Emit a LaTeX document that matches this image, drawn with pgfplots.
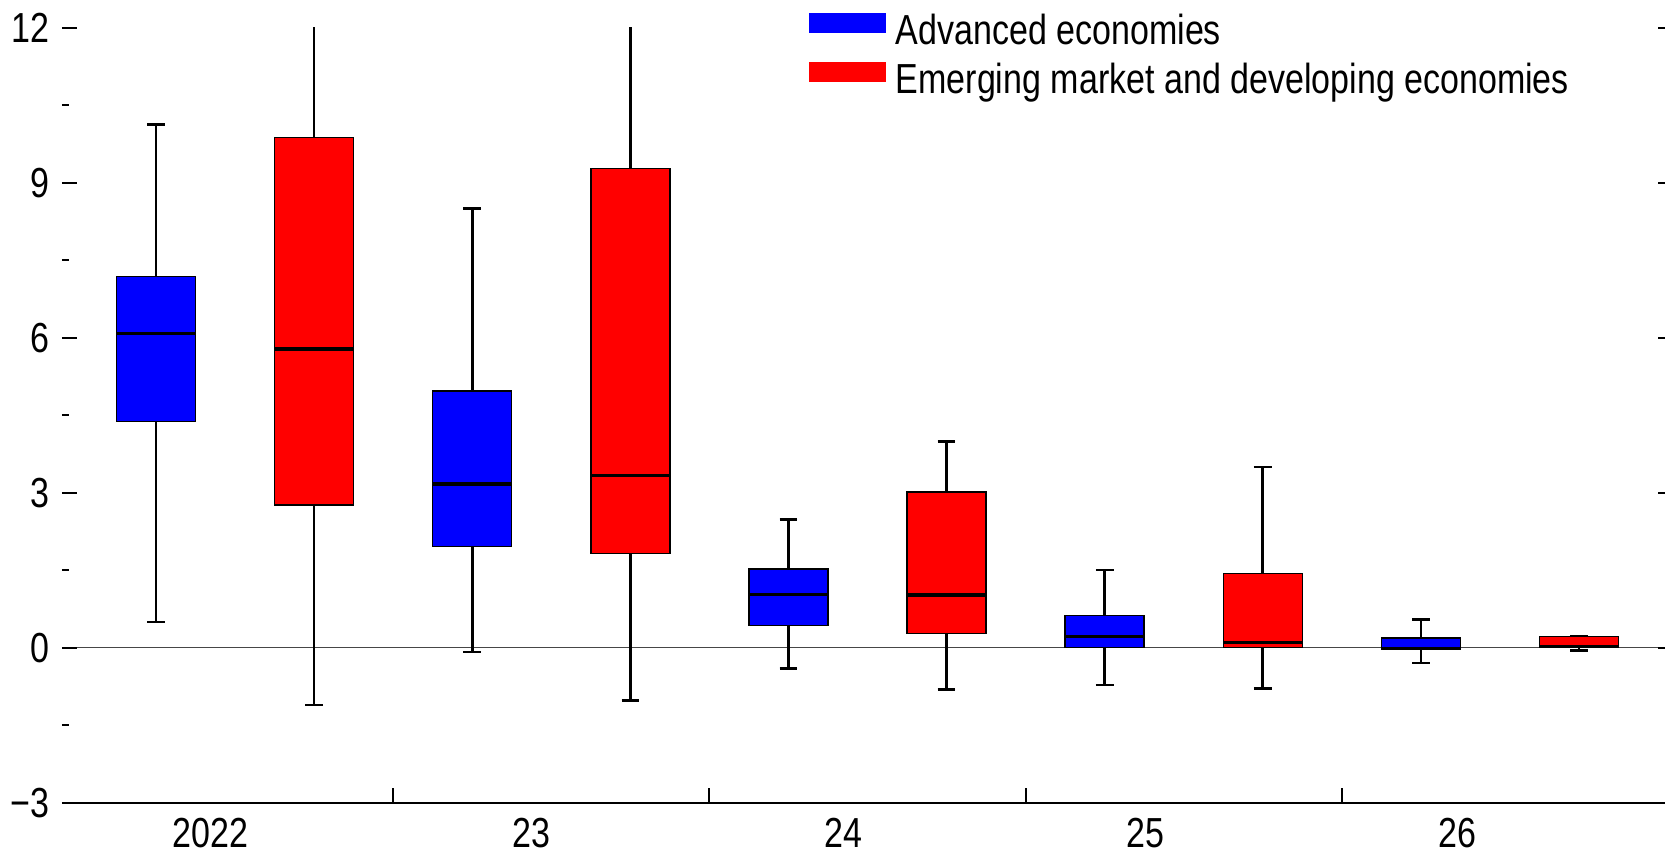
\documentclass[border=0pt]{standalone}
\usepackage{fontspec}
\setmainfont{Liberation Sans}[FakeStretch=0.81]
\usepackage{pgfplots}
\usepgfplotslibrary{statistics}
\pgfplotsset{compat=1.18}
\definecolor{zeroline}{RGB}{70,70,70}
\pgfplotsset{
  bx/.style n args={7}{forget plot, fill=#1, draw=black, line width=0.7pt,
    boxplot/draw direction=y,
    boxplot prepared={draw position=#2, lower whisker=#3, lower quartile=#4, median=#5, upper quartile=#6,
      upper whisker=#7, box extend=0.25, whisker extend=0.056}},
}
\begin{document}
\begin{tikzpicture}
\begin{axis}[
  name=main,
  width=790.5pt, height=387.5pt, scale only axis,
  xmin=-0.5, xmax=4.5, ymin=-3, ymax=12,
  axis x line*=bottom, axis y line*=left,
  x axis line style={-, line width=1.1pt, black},
  y axis line style={draw=none},
  xtick={0.5,1.5,2.5,3.5}, xticklabels={},
  extra x ticks={-0.078,0.937,1.924,2.879,3.867},
  extra x tick labels={2022,23,24,25,26},
  extra x tick style={major tick length=0pt, xticklabel style={anchor=north, inner sep=0pt, yshift=-7.6pt}},
  ytick={-3,0,3,6,9,12},
  yticklabels={−3,0,3,6,9,12},
  minor ytick={-1.5,1.5,4.5,7.5,10.5},
  tick align=inside,
  major tick length=7.5pt, minor tick length=3.5pt,
  every tick/.style={black, line width=1pt},
  ytick style={xshift=-7.5pt},
  yticklabel style={anchor=east, inner sep=0pt, xshift=-13.5pt},
  tick label style={font=\fontsize{21}{25}\selectfont},
  boxplot/every box/.style={line width=0.7pt},
  boxplot/every median/.style={line width=1.6pt},
  boxplot/every whisker/.style={line width=1.3pt},
  legend style={at={(0,1)}, anchor=north west, xshift=366pt, yshift=7.5pt,
    draw=none, fill=none, inner sep=0pt, outer sep=0pt, row sep=7.3pt,
    font=\fontsize{21}{25}\selectfont, nodes={inner sep=0pt}},
  legend cell align=left,
]
\addlegendimage{legend image code/.code={\fill[blue] (0pt,-0.85pt) rectangle (38pt,8.65pt); \path (43pt,0pt);}}
\addlegendentry{Advanced economies}
\addlegendimage{legend image code/.code={\fill[red] (0pt,-0.85pt) rectangle (38pt,8.65pt); \path (43pt,0pt);}}
\addlegendentry{Emerging market and developing economies}

\addplot[forget plot, line width=0.75pt, color=zeroline] coordinates {(-0.5,0) (4.5,0)};

% Advanced economies
\addplot[bx={blue}{-0.25}{0.50}{4.38}{6.08}{7.18}{10.13}] coordinates {};
\addplot[bx={blue}{0.75}{-0.08}{1.96}{3.17}{4.97}{8.50}] coordinates {};
\addplot[bx={blue}{1.75}{-0.40}{0.43}{1.03}{1.52}{2.48}] coordinates {};
\addplot[bx={blue}{2.75}{-0.72}{0.00}{0.21}{0.62}{1.50}] coordinates {};
\addplot[bx={blue}{3.75}{-0.30}{-0.03}{-0.01}{0.19}{0.55}] coordinates {};
% Emerging market and developing economies
\addplot[bx={red}{0.25}{-1.11}{2.76}{5.78}{9.88}{12.5}] coordinates {};
\addplot[bx={red}{1.25}{-1.02}{1.82}{3.33}{9.28}{12.5}] coordinates {};
\addplot[bx={red}{2.25}{-0.81}{0.27}{1.02}{3.01}{3.99}] coordinates {};
\addplot[bx={red}{3.25}{-0.79}{0.00}{0.10}{1.44}{3.50}] coordinates {};
\addplot[bx={red}{4.25}{-0.05}{0.01}{0.02}{0.22}{0.23}] coordinates {};
\end{axis}
\begin{axis}[
  width=790.5pt, height=387.5pt, scale only axis,
  xmin=-0.5, xmax=4.5, ymin=-3, ymax=12,
  axis y line*=right, axis x line=none,
  y axis line style={draw=none},
  ytick={-3,0,3,6,9,12}, yticklabels={},
  tick align=outside, major tick length=7.5pt,
  every tick/.style={black, line width=1pt},
]
\end{axis}
\pgfresetboundingbox
\path[use as bounding box] ([xshift=-38.5pt,yshift=-26.15pt]main.south west) rectangle ([xshift=3.5pt,yshift=13.85pt]main.north east);
\end{tikzpicture}
\end{document}
